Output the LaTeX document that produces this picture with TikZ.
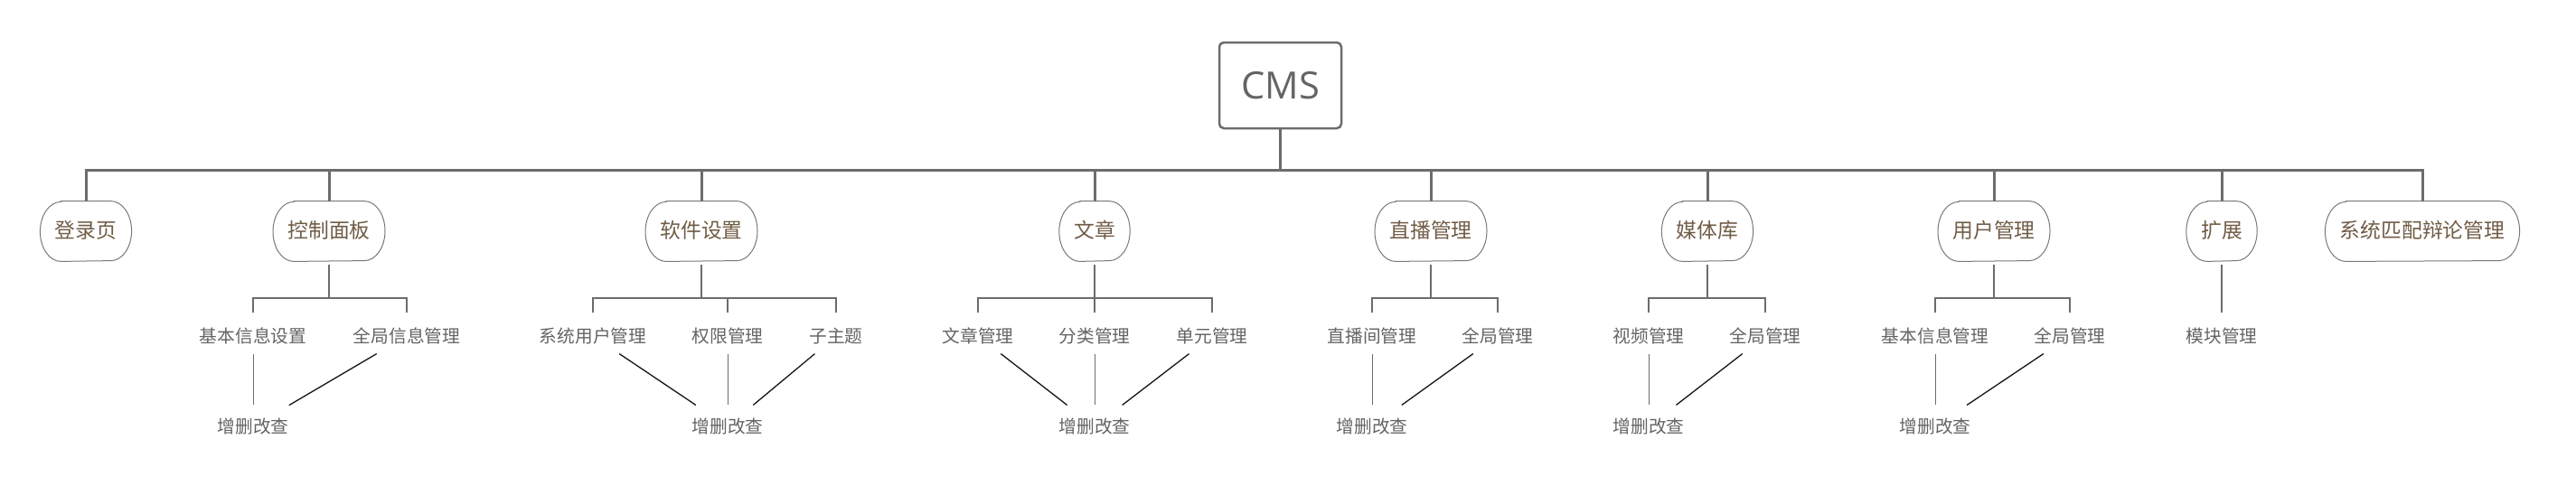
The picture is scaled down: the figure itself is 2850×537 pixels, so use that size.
\documentclass[tikz,border=0pt]{standalone}
\usepackage{fontspec}
\newfontfamily\cjk{Noto Sans CJK SC}
\newfontfamily\osans{Open Sans}
\definecolor{linegray}{RGB}{108,108,108}
\definecolor{bordergray}{RGB}{120,120,120}
\definecolor{textgray}{RGB}{100,100,100}
\definecolor{brownish}{RGB}{112,92,70}
\definecolor{darkline}{RGB}{20,20,20}
\tikzset{
  root/.style={draw=linegray, line width=1.25pt, rounded corners=2.5pt, minimum width=67.5pt, minimum height=47.5pt, inner sep=0pt, text=textgray, font=\osans\fontsize{20.8}{24}\selectfont},
  mainbox/.style={minimum height=33pt, inner xsep=8pt, inner ysep=0pt, text=brownish, text height=0.88em, text depth=0.12em, font=\cjk\fontsize{11.4}{13}\selectfont},
  mainborder/.style={draw=bordergray, line width=0.5pt},
  child/.style={inner xsep=0pt, inner ysep=4.6pt, text=textgray, text height=0.88em, text depth=0.12em, font=\cjk\fontsize{9.85}{12}\selectfont},
  crud/.style={child, inner ysep=6.6pt},
  bus/.style={draw=linegray, line width=1.5pt},
  sub/.style={draw=linegray, line width=0.65pt},
  vline/.style={draw=linegray, line width=0.5pt},
  dline/.style={draw=darkline, line width=0.65pt},
}
\begin{document}
\begin{tikzpicture}[x=0.5pt,y=-0.5pt]
\useasboundingbox (0,0) rectangle (2850,537);
\coordinate (bus) at (0,188);
\coordinate (bar) at (0,330);
% root
\node[root] (cms) at (1416.5,94.5) {CMS};
% main nodes
\node[mainbox] (login) at (95,256) {登录页};
\node[mainbox] (ctrl) at (364,256) {控制面板};
\node[mainbox] (soft) at (776,256) {软件设置};
\node[mainbox] (art) at (1211,256) {文章};
\node[mainbox] (live) at (1583,256) {直播管理};
\node[mainbox] (media) at (1889,256) {媒体库};
\node[mainbox] (user) at (2206,256) {用户管理};
\node[mainbox] (ext) at (2458,256) {扩展};
\node[mainbox] (sys) at (2680,256) {系统匹配辩论管理};
% borders of main nodes: straight top and bottom, half-elliptic sides
\foreach \n in {login,ctrl,soft,art,live,media,user,ext,sys}
  \draw[mainborder] ([xshift=11.5pt]\n.north west) -- ([xshift=-11.5pt]\n.north east)
    arc[start angle=90, end angle=-90, x radius=11.5pt, y radius=16.5pt]
    -- ([xshift=11.5pt]\n.south west)
    arc[start angle=270, end angle=90, x radius=11.5pt, y radius=16.5pt] -- cycle;
% children
\node[child] (ctrl1) at (280,372) {基本信息设置};
\node[child] (ctrl2) at (450,372) {全局信息管理};
\node[crud] (ctrlc) at (280,472) {增删改查};
\node[child] (soft1) at (656,372) {系统用户管理};
\node[child] (soft2) at (805,372) {权限管理};
\node[child] (soft3) at (925,372) {子主题};
\node[crud] (softc) at (805,472) {增删改查};
\node[child] (art1) at (1082,372) {文章管理};
\node[child] (art2) at (1211,372) {分类管理};
\node[child] (art3) at (1341,372) {单元管理};
\node[crud] (artc) at (1211,472) {增删改查};
\node[child] (live1) at (1518,372) {直播间管理};
\node[child] (live2) at (1657,372) {全局管理};
\node[crud] (livec) at (1518,472) {增删改查};
\node[child] (media1) at (1824,372) {视频管理};
\node[child] (media2) at (1953,372) {全局管理};
\node[crud] (mediac) at (1824,472) {增删改查};
\node[child] (user1) at (2141,372) {基本信息管理};
\node[child] (user2) at (2290,372) {全局管理};
\node[crud] (userc) at (2141,472) {增删改查};
\node[child] (ext1) at (2458,372) {模块管理};
% main bus
\draw[bus] (cms.south) -- (cms.south |- bus);
\draw[bus] (login.north) -- (login.north |- bus) -- (sys.north |- bus) -- (sys.north);
\foreach \n in {ctrl,soft,art,live,media,user,ext}
  \draw[bus] (\n.north) -- (\n.north |- bus);
% second-level brackets
\foreach \n/\a/\b in {ctrl/ctrl1/ctrl2, soft/soft1/soft3, art/art1/art3, live/live1/live2, media/media1/media2, user/user1/user2} {
  \draw[sub] ([yshift=-2pt]\n.south) -- (\n.south |- bar);
  \draw[sub, shorten <=3pt, shorten >=3pt] (\a.north) -- (\a.north |- bar) -- (\b.north |- bar) -- (\b.north);
}
\draw[sub, shorten >=3pt] (soft2.north |- bar) -- (soft2.north);
\draw[sub, shorten >=3pt] (art2.north |- bar) -- (art2.north);
\draw[sub, shorten >=3pt] ([yshift=-2pt]ext.south) -- (ext1.north);
% crud connectors
\draw[vline] (ctrl1) -- (ctrlc);
\draw[dline] (ctrl2) -- (ctrlc);
\draw[dline] (soft1) -- (softc);
\draw[vline] (soft2) -- (softc);
\draw[dline] (soft3) -- (softc);
\draw[dline] (art1) -- (artc);
\draw[vline] (art2) -- (artc);
\draw[dline] (art3) -- (artc);
\draw[vline] (live1) -- (livec);
\draw[dline] (live2) -- (livec);
\draw[vline] (media1) -- (mediac);
\draw[dline] (media2) -- (mediac);
\draw[vline] (user1) -- (userc);
\draw[dline] (user2) -- (userc);
\end{tikzpicture}
\end{document}
